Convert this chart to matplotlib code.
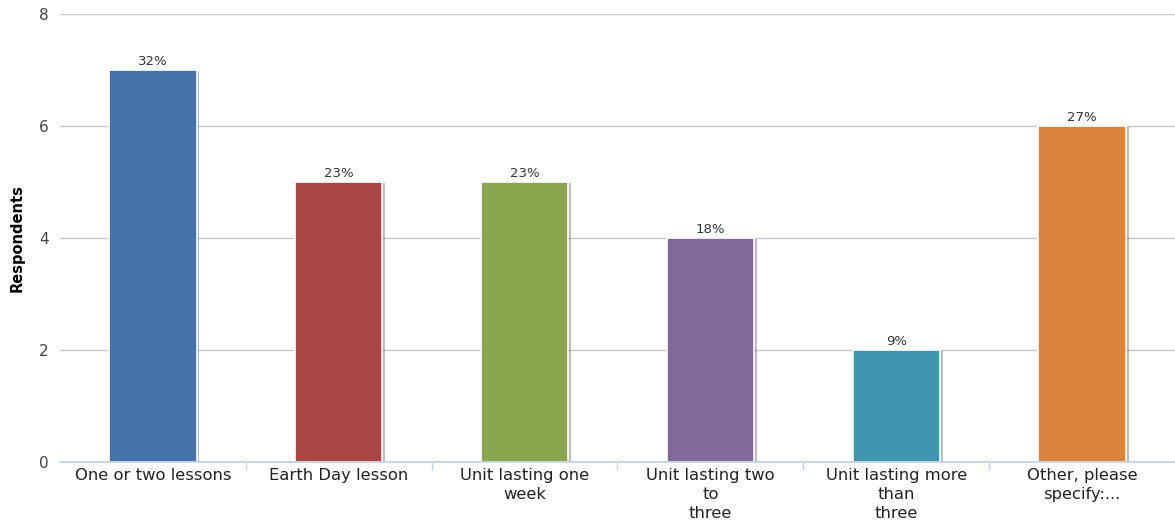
import matplotlib
matplotlib.use("Agg")
import matplotlib.pyplot as plt
import matplotlib.patheffects as pe

categories = [
    "One or two lessons",
    "Earth Day lesson",
    "Unit lasting one\nweek",
    "Unit lasting two\nto\nthree",
    "Unit lasting more\nthan\nthree",
    "Other, please\nspecify:...",
]
respondents = [7, 5, 5, 4, 2, 6]
percent_labels = ["32%", "23%", "23%", "18%", "9%", "27%"]
colors = ["#4572A7", "#AA4643", "#89A54E", "#80699B", "#3D96AE", "#DB843D"]
y_ticks = [0, 2, 4, 6, 8]

fig = plt.figure(figsize=(11.75, 5.25), dpi=100)
ax = fig.add_axes([0.051, 0.12, 0.949, 0.8533])

x = list(range(len(categories)))
bars = ax.bar(x, respondents, width=0.47, color=colors, edgecolor="white",
              linewidth=1.2, zorder=3)
for b in bars:
    b.set_path_effects([
        pe.SimplePatchShadow(offset=(2, -1), shadow_rgbFace="black", alpha=0.25),
        pe.Normal(),
    ])

for xi, v, lab in zip(x, respondents, percent_labels):
    ax.text(xi, v + 0.03, lab, ha="center", va="bottom", fontsize=9.5,
            color="#333333", zorder=4)

ax.set_xlim(-0.5, len(categories) - 0.5)
ax.set_ylim(0, 8)
ax.set_yticks(y_ticks)
ax.set_yticklabels([str(t) for t in y_ticks], fontsize=11, color="#444444")
ax.grid(axis="y", color="#C8C8C8", linewidth=1, zorder=0)
ax.set_axisbelow(True)

# category boundary ticks
ax.set_xticks([i - 0.5 for i in range(1, len(categories))])
ax.set_xticklabels([""] * (len(categories) - 1))
ax.tick_params(axis="x", length=6, color="#C0D0E0", width=1)
ax.tick_params(axis="y", length=0, pad=8)
ax.set_xticks(x, minor=True)
ax.set_xticklabels(categories, minor=True, fontsize=11.8, color="#222222",
                   linespacing=1.35)
ax.tick_params(axis="x", which="minor", length=0, pad=4)

for s in ["top", "right", "left"]:
    ax.spines[s].set_visible(False)
ax.spines["bottom"].set_color("#C0D0E0")
ax.spines["bottom"].set_linewidth(1.2)
ax.spines["bottom"].set_zorder(5)

ax.set_ylabel("Respondents", fontsize=10.5, fontweight="bold")
ax.yaxis.set_label_coords(-0.032, 0.5)

fig.savefig("out.png", dpi=100)
